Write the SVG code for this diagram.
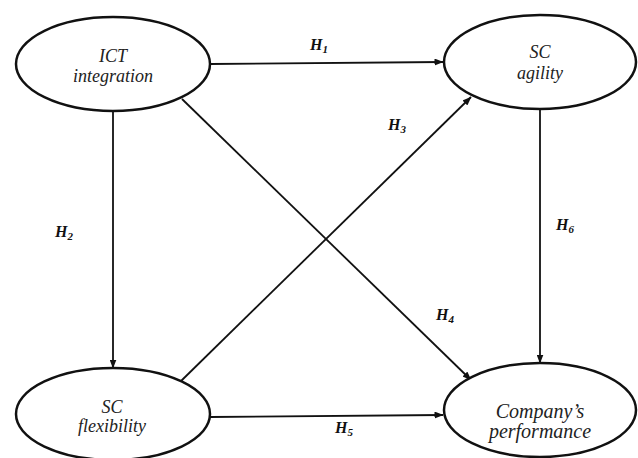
<svg xmlns="http://www.w3.org/2000/svg" width="638" height="458" viewBox="0 0 638 458">
<defs>
<marker id="arr" markerWidth="9" markerHeight="7" refX="8.5" refY="3.5" orient="auto" markerUnits="userSpaceOnUse">
<path d="M0,0 L9,3.5 L0,7 Z" fill="#111"/>
</marker>
</defs>
<style>
.node ellipse{fill:#fff;stroke:#111;stroke-width:2.5}
.node text{font-family:"Liberation Serif","Times New Roman",serif;font-style:italic;font-size:18px;fill:#222;text-anchor:middle}
.node text.big{font-size:20px}
.edges line{stroke:#111;stroke-width:1.8;marker-end:url(#arr)}
.lbl{font-family:"Liberation Serif","Times New Roman",serif;font-style:italic;font-weight:bold;font-size:16px;fill:#111}
.sub{font-size:11px}
</style>
<rect width="638" height="458" fill="#fff"/>
<g class="edges">
<line x1="210" y1="64" x2="443" y2="62"/>
<line x1="113" y1="111" x2="113" y2="368"/>
<line x1="180" y1="382" x2="471" y2="97"/>
<line x1="182" y1="99" x2="471" y2="380"/>
<line x1="210" y1="417" x2="443" y2="415"/>
<line x1="540" y1="109" x2="540" y2="363"/>
</g>
<g id="labels">
<text class="lbl" x="310" y="50">H<tspan class="sub" dy="3">1</tspan></text>
<text class="lbl" x="55" y="237">H<tspan class="sub" dy="3">2</tspan></text>
<text class="lbl" x="388" y="130">H<tspan class="sub" dy="3">3</tspan></text>
<text class="lbl" x="436" y="320">H<tspan class="sub" dy="3">4</tspan></text>
<text class="lbl" x="335" y="433">H<tspan class="sub" dy="3">5</tspan></text>
<text class="lbl" x="556" y="230">H<tspan class="sub" dy="3">6</tspan></text>
</g>
<g id="ict" class="node">
<ellipse cx="113" cy="64" rx="97" ry="47"/>
<text x="113" y="62">ICT</text>
<text x="113" y="82">integration</text>
</g>
<g id="agility" class="node">
<ellipse cx="540" cy="62" rx="96" ry="47"/>
<text x="540" y="58">SC</text>
<text x="540" y="79">agility</text>
</g>
<g id="flexibility" class="node">
<ellipse cx="113" cy="414" rx="97" ry="46"/>
<text x="112" y="413">SC</text>
<text x="112" y="432">flexibility</text>
</g>
<g id="performance" class="node">
<ellipse cx="540" cy="410" rx="96" ry="47"/>
<text class="big" x="540" y="418">Company’s</text>
<text class="big" x="540" y="438">performance</text>
</g>
</svg>
